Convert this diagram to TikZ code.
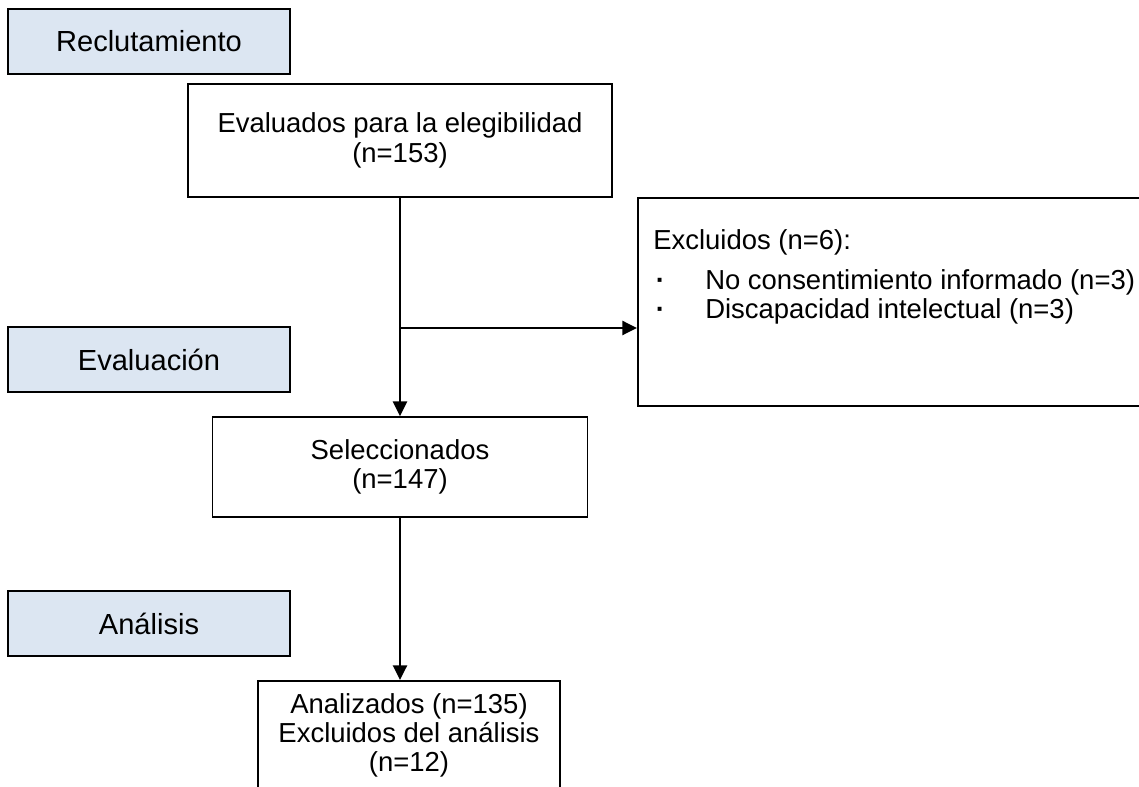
\documentclass[tikz,border=0pt]{standalone}
\usepackage{fontspec}
\setmainfont{Liberation Sans}
\usetikzlibrary{arrows.meta,positioning}
\definecolor{phasefill}{RGB}{220,230,242}

\begin{document}
\begin{tikzpicture}[x=0.75pt, y=-0.75pt,
  font=\fontsize{20.6}{22}\selectfont,
  phase/.style={draw, line width=1.3pt, fill=phasefill, minimum width=211.5pt, minimum height=48.75pt, inner sep=0pt, font=\fontsize{21.8}{23}\selectfont},
  stepbox/.style={draw, line width=1.3pt, align=center, inner sep=0pt},
  conn/.style={line width=1.8pt, -{Triangle[length=11pt, width=10.5pt]}}]
  \useasboundingbox (0,0) rectangle (1139,787);
  \clip (0,0) rectangle (1139,787);

  % fases
  \node[phase] (reclut) at (149,41.5) {Reclutamiento};
  \node[phase] (evalua) at (149,359.5) {Evaluación};
  \node[phase] (analis) at (149,623.5) {Análisis};

  % cajas del flujo
  \node[stepbox, minimum width=318pt, minimum height=84.75pt] (evalbox) at (400,140.5) {Evaluados para la elegibilidad\\(n=153)};
  \node[stepbox, minimum width=281.25pt, minimum height=75pt] (selec) at (400,467) {Seleccionados\\(n=147)};
  \node[stepbox, anchor=north west, minimum width=392.25pt, minimum height=156pt] (excl) at (637,197) {};
  \node[stepbox, anchor=north, minimum width=226.5pt, minimum height=105pt] (analiz) at (409,680) {};

  % textos de las cajas abiertas
  \node[inner sep=0pt, below right=24pt and 12pt of excl.north west] (excltxt) {%
    \begin{tabular}{@{}p{39pt}@{}l@{}}
      \multicolumn{2}{@{}l@{}}{Excluidos (n=6):}\\[7.5pt]
      \hspace{2pt}\textbf{·} & No consentimiento informado (n=3)\\
      \hspace{2pt}\textbf{·} & Discapacidad intelectual (n=3)
    \end{tabular}};
  \node[inner sep=0pt, align=center, below=9.75pt of analiz.north] (analiztxt) {Analizados (n=135)\\Excluidos del análisis\\(n=12)};

  % conectores
  \coordinate (split) at (400,328);
  \draw[conn] (evalbox.south) -- (selec.north);
  \draw[conn] (split) -- (split -| excl.west);
  \draw[conn] (selec.south) -- (selec.south |- analiz.north);
\end{tikzpicture}
\end{document}
